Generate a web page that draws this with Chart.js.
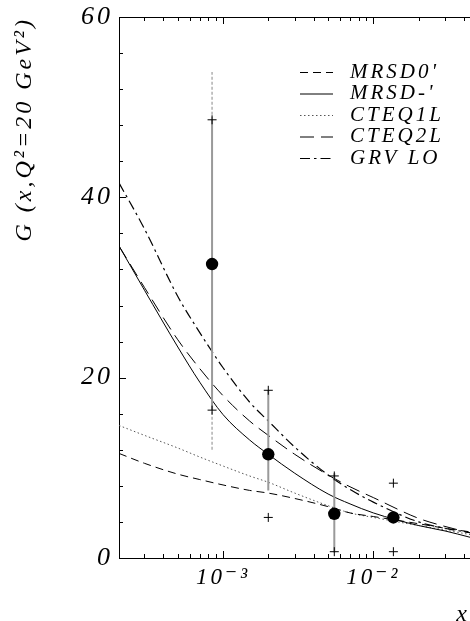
<!DOCTYPE html>
<html><head><meta charset="utf-8">
<script src="https://cdn.jsdelivr.net/npm/chart.js@4.4.0/dist/chart.umd.min.js"></script>
<style>html,body{margin:0;padding:0;background:#fff;overflow:hidden}canvas{display:block}</style>
</head><body>
<canvas id="c" width="470" height="621"></canvas>
<script>
// ---- data ----
const xGrid   = [2.03e-4, 3e-4, 5e-4, 7e-4, 1e-3, 1.5e-3, 2e-3, 3e-3, 5e-3, 7e-3, 1e-2, 2e-2, 3e-2, 4.4e-2];
const mrsd0   = [11.6, 10.5, 9.3, 8.7, 8.1, 7.5, 7.2, 6.6, 5.7, 5.0, 4.6, 3.8, 3.3, 2.9];
const mrsdm   = [34.6, 29.7, 23.4, 19.5, 15.9, 13.1, 11.5, 9.4, 7.1, 6.0, 5.0, 3.6, 3.0, 2.3];
const cteq1   = [14.7, 13.6, 12.2, 11.2, 10.2, 9.1, 8.4, 7.2, 5.8, 5.0, 4.5, 3.6, 3.1, 2.6];
const cteq2   = [34.6, 30.0, 24.2, 21.0, 18.0, 15.2, 13.6, 11.5, 9.2, 7.9, 6.7, 4.4, 3.5, 2.8];
const grv     = [41.6, 36.5, 29.0, 25.0, 21.1, 17.3, 15.2, 12.3, 9.2, 7.6, 6.2, 4.0, 3.3, 2.8];
const seriesNames = ["MRSD0'", "MRSD-'", "CTEQ1L", "CTEQ2L", "GRV LO"];

const ptX      = [8.45e-4, 2.0e-3, 5.5e-3, 1.36e-2];
const ptG      = [32.6, 11.5, 4.9, 4.5];
const barLow   = [16.4, 7.5, 0.6, null];
const barHigh  = [48.6, 18.6, 9.4, null];
const extLow   = [12.0, null, null, null];
const extHigh  = [53.9, null, null, null];
const crossLow = [16.4, 4.5, 0.7, 0.7];
const crossHigh= [48.6, 18.6, 9.1, 8.3];

const xMin = 2.03e-4, xMax = 4.4e-2;
const xTickValues = [2e-4,3e-4,4e-4,5e-4,6e-4,7e-4,8e-4,9e-4,1e-3,2e-3,3e-3,4e-3,5e-3,6e-3,7e-3,8e-3,9e-3,1e-2,2e-2,3e-2,4e-2];
const xLabelValues = [1e-3, 1e-2];
const xLabelTexts  = ['10\u207B\u00B3', '10\u207B\u00B2'];
const yLabelValues = [0, 20, 40, 60];

// ---- build ----
const curve = arr => xGrid.map((x,i)=>({x:x, y:arr[i]}));
const barPts = [];
ptX.forEach((x,i)=>{ if(barLow[i]!==null){ barPts.push({x:x,y:barLow[i]},{x:x,y:barHigh[i]},{x:x,y:null}); } });
const extPts = [];
ptX.forEach((x,i)=>{ if(extLow[i]!==null){ extPts.push({x:x,y:extLow[i]},{x:x,y:barLow[i]},{x:x,y:null},{x:x,y:barHigh[i]},{x:x,y:extHigh[i]},{x:x,y:null}); } });
const crossPts = [];
ptX.forEach((x,i)=>{ crossPts.push({x:x,y:crossLow[i]},{x:x,y:crossHigh[i]}); });

const serifItalic = (size)=>({family:'"Liberation Serif", "DejaVu Serif", serif', style:'italic', size:size});

const spacing = { id:'spacing', beforeDraw(chart){ chart.ctx.letterSpacing = '3px'; } };

const inwardTicks = {
  id:'inwardTicks',
  afterDraw(chart){
    const {ctx, chartArea:a, scales} = chart;
    ctx.save(); ctx.strokeStyle='#000'; ctx.lineWidth=1; ctx.setLineDash([]);
    const xs = scales.x;
    xs.ticks.forEach(t=>{
      const px = Math.round(xs.getPixelForValue(t.value))+0.5;
      if (px < a.left+1 || px > a.right) return;
      const L = xLabelValues.includes(t.value) ? 7 : 4;
      ctx.beginPath();
      ctx.moveTo(px, a.bottom); ctx.lineTo(px, a.bottom-L);
      ctx.moveTo(px, a.top); ctx.lineTo(px, a.top+L);
      ctx.stroke();
    });
    const ys = scales.y;
    ys.ticks.forEach(t=>{
      const py = Math.round(ys.getPixelForValue(t.value))+0.5;
      const L = yLabelValues.includes(t.value) ? 7 : 4;
      ctx.beginPath(); ctx.moveTo(a.left, py); ctx.lineTo(a.left+L, py); ctx.stroke();
    });
    ctx.restore();
  }
};

const legendBox = {
  id:'legendBox',
  afterDraw(chart, args, o){
    const ctx = chart.ctx; ctx.save();
    ctx.font = 'italic 21px "Liberation Serif", serif';
    ctx.letterSpacing = '3px';
    ctx.textBaseline = 'middle'; ctx.textAlign = 'left'; ctx.fillStyle = '#000';
    let row = 0;
    chart.data.datasets.forEach(ds=>{
      if(!ds.inLegend) return;
      const y = o.top + row*o.step;
      ctx.strokeStyle = ds.borderColor; ctx.lineWidth = ds.borderWidth;
      ctx.setLineDash(ds.borderDash || []);
      ctx.beginPath(); ctx.moveTo(o.x0, y+0.5); ctx.lineTo(o.x1, y+0.5); ctx.stroke();
      ctx.setLineDash([]);
      ctx.fillText(ds.label, o.tx, y);
      row++;
    });
    ctx.restore();
  }
};

const curveDs = (label, data, dash, color, width) => ({
  label, data: curve(data), inLegend:true, borderColor: color, borderWidth: width,
  borderDash: dash, pointRadius:0, fill:false, cubicInterpolationMode:'monotone', borderCapStyle:'butt'
});

new Chart(document.getElementById('c'), {
  type:'line',
  data:{ datasets:[
    { label:'data', data: ptX.map((x,i)=>({x:x,y:ptG[i]})), showLine:false, pointRadius:6.2, pointBackgroundColor:'#000', pointBorderColor:'#000', pointBorderWidth:0 },
    { label:'limits', data: crossPts, showLine:false, pointStyle:'cross', pointRadius:4.5, pointBorderColor:'#000', pointBorderWidth:1 },
    { label:'bars', data: barPts, borderColor:'#9a9a9a', borderWidth:2, pointRadius:0, spanGaps:false },
    { label:'bars ext', data: extPts, borderColor:'#b0b0b0', borderWidth:1.5, borderDash:[3,2], pointRadius:0, spanGaps:false },
    curveDs(seriesNames[0], mrsd0, [8,5], '#000', 1),
    curveDs(seriesNames[1], mrsdm, [], '#000', 1),
    curveDs(seriesNames[2], cteq1, [1.5,2.5], '#555', 1),
    curveDs(seriesNames[3], cteq2, [14,7], '#000', 1),
    curveDs(seriesNames[4], grv, [10,4,2.5,4], '#000', 1.2)
  ]},
  options:{
    responsive:false, devicePixelRatio:1, animation:false,
    layout:{ autoPadding:false, padding:{left:0, top:17, right:0, bottom:0} },
    plugins:{ legend:{display:false}, tooltip:{enabled:false},
      legendBox:{ x0:300, x1:333, tx:350, top:72, step:21.5 } },
    scales:{
      x:{ type:'logarithmic', position:'bottom', min:xMin, max:xMax,
        afterBuildTicks(s){ s.ticks = xTickValues.map(v=>({value:v})); },
        afterFit(s){ s.height = 63; s.paddingLeft = 0; s.paddingRight = 0; },
        grid:{display:false, drawTicks:false},
        border:{display:true, color:'#000', width:1},
        ticks:{ autoSkip:false, maxRotation:0, padding:6, color:'#000', font:serifItalic(23),
          callback(v){ const k = xLabelValues.indexOf(v); return k>=0 ? xLabelTexts[k] : ''; } },
        title:{ display:true, text:'x', align:'end', color:'#000', font:Object.assign(serifItalic(24),{lineHeight:0.5}), padding:{top:0,bottom:0} }
      },
      x2:{ type:'logarithmic', position:'top', min:xMin, max:xMax, display:true,
        afterFit(s){ s.height = 0; s.paddingLeft = 0; s.paddingRight = 0; },
        grid:{display:false, drawTicks:false},
        border:{display:true, color:'#000', width:1},
        ticks:{display:false}
      },
      y:{ min:0, max:60, position:'left',
        afterFit(s){ s.width = 119; s.paddingTop = 0; s.paddingBottom = 0; },
        grid:{display:false, drawTicks:false},
        border:{display:true, color:'#000', width:1},
        ticks:{ stepSize:4, autoSkip:false, padding:6, color:'#000', font:serifItalic(26),
          callback(v){ return yLabelValues.includes(v) ? String(v) : ''; } },
        title:{ display:true, text:'G (x,Q\u00B2=20 GeV\u00B2)', align:'end', color:'#000', font:serifItalic(24), padding:{top:10,bottom:0} }
      }
    }
  },
  plugins:[spacing, inwardTicks, legendBox]
});
</script>
</body></html>
